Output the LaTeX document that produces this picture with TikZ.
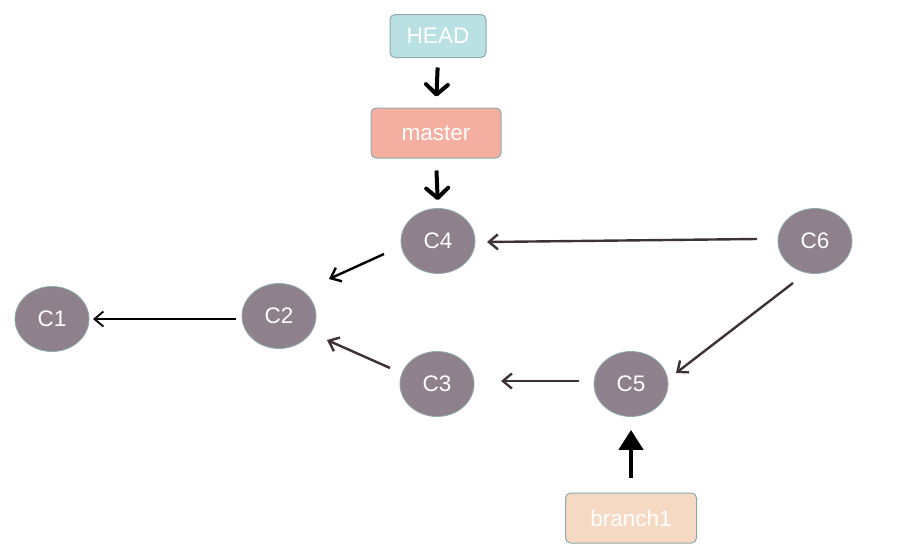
\documentclass[tikz,border=0pt]{standalone}
\usepackage{fontspec}
\setmainfont{Liberation Sans}
\usetikzlibrary{shapes.geometric,arrows.meta}
\definecolor{headc}{HTML}{B9E0E3}
\definecolor{masterc}{HTML}{F4AFA0}
\definecolor{branchc}{HTML}{F5D9C3}
\definecolor{commitc}{HTML}{8E818C}
\definecolor{edgec}{HTML}{8FAAAC}
\definecolor{linkc}{HTML}{3D3236}
\tikzset{
  refbox/.style={draw=edgec, line width=1pt, rounded corners=5pt, inner sep=0pt,
    text=white, font=\fontsize{22.5}{24}\selectfont},
  commit/.style={ellipse, draw=edgec, line width=0.8pt, fill=commitc, inner sep=0pt,
    minimum width=74pt, minimum height=65pt, text=white, font=\fontsize{22.5}{24}\selectfont},
  refarrow/.style={line width=4pt, -{Straight Barb[length=10pt,width=22pt,line cap=round,round]}},
  uparrow/.style={line width=4.5pt, -{Triangle[length=20pt,width=24pt]}},
  parent/.style={line width=2.4pt, -{Straight Barb[length=9pt,width=15pt]}}
}
\begin{document}
\begin{tikzpicture}[x=1pt,y=-1pt]
\useasboundingbox (0,0) rectangle (908,554);
\node[refbox, fill=headc, minimum width=96pt, minimum height=43pt] (HEAD) at (438,36) {HEAD};
\node[refbox, fill=masterc, minimum width=130pt, minimum height=50pt] (master) at (436,133) {master};
\node[refbox, fill=branchc, minimum width=131pt, minimum height=50pt] (branch1) at (631,518) {branch1};
\node[commit] (C1) at (52,319) {C1};
\node[commit] (C2) at (279,316) {C2};
\node[commit] (C4) at (438,241) {C4};
\node[commit] (C3) at (437,384) {C3};
\node[commit] (C5) at (631,384) {C5};
\node[commit] (C6) at (815,241) {C6};

\draw[refarrow, black, shorten <=9.5pt, shorten >=11pt] (HEAD.south) -- (master.north);
\draw[refarrow, black, shorten <=12pt, shorten >=8pt] (master.south) -- (C4.north);
\draw[uparrow, black, shorten <=15pt, shorten >=13pt] (branch1.north) -- (C5.south);

\draw[parent, black, line width=1.8pt] ([shift={(-43,3)}]C2.center) -- ([shift={(41,0)}]C1.center);
\draw[parent, black] ([shift={(-54,13)}]C4.center) -- ([shift={(50,-37)}]C2.center);
\draw[parent, linkc] ([shift={(-47,-16)}]C3.center) -- ([shift={(48,24)}]C2.center);
\draw[parent, linkc] ([shift={(-58,-2)}]C6.center) -- ([shift={(49,1)}]C4.center);
\draw[parent, linkc] ([shift={(-22,42)}]C6.center) -- ([shift={(45,-11)}]C5.center);
\draw[parent, linkc] ([shift={(-52,-3)}]C5.center) -- ([shift={(64,-3)}]C3.center);
\end{tikzpicture}
\end{document}
